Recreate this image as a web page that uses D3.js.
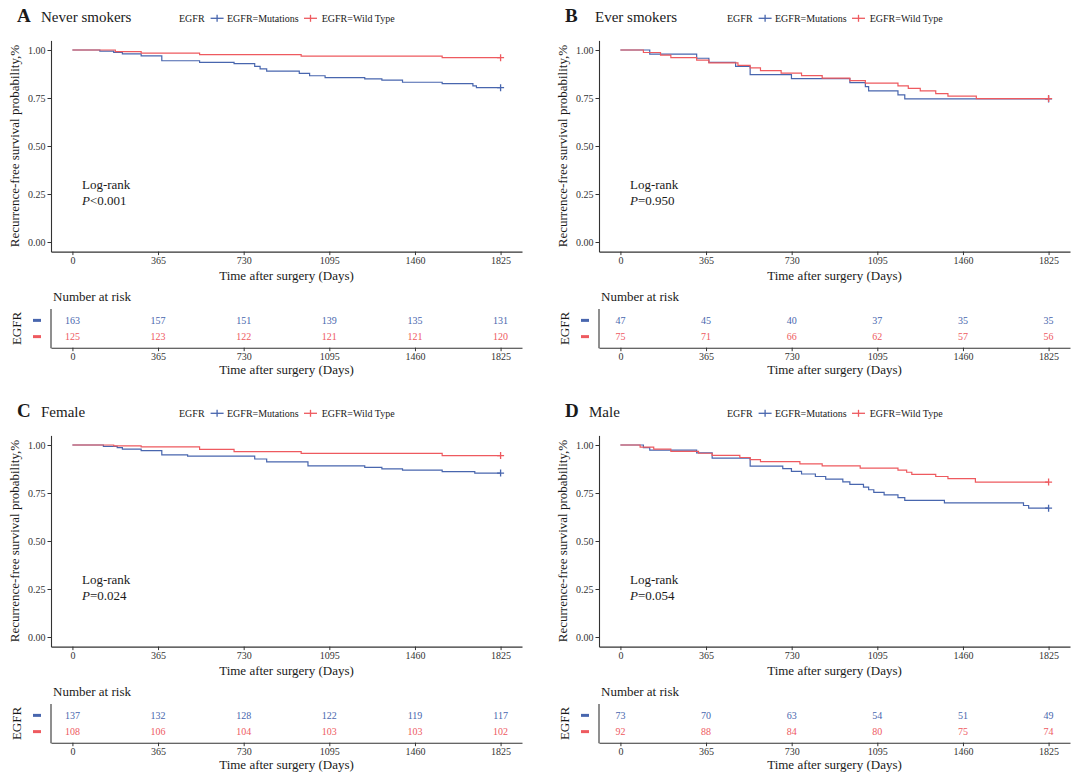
<!DOCTYPE html>
<html>
<head>
<meta charset="utf-8">
<script src="https://cdn.jsdelivr.net/npm/d3@7"></script>
<style>
  html, body { margin: 0; padding: 0; background: #ffffff; }
  svg text { font-family: "Liberation Serif", "DejaVu Serif", serif; }
</style>
</head>
<body>
<svg id="chart" width="1080" height="783"></svg>
<script>
// ---------------- DATA ----------------
const panelLetters = ["A", "B", "C", "D"];
const panelTitles = ["Never smokers", "Ever smokers", "Female", "Male"];
const pValueTexts = ["<0.001", "=0.950", "=0.024", "=0.054"];
const seriesNames = ["EGFR=Mutations", "EGFR=Wild Type"];
const legendTitle = "EGFR";
const xTicks = [0, 365, 730, 1095, 1460, 1825];
const yTicks = [0, 0.25, 0.5, 0.75, 1];

// Never smokers
const neverMutT = [0, 117, 176, 213, 293, 381, 542, 689, 777, 800, 828, 967, 1011, 1077, 1246, 1319, 1407, 1576, 1707, 1722, 1825];
const neverMutS = [1, 0.994, 0.988, 0.98, 0.969, 0.944, 0.936, 0.929, 0.915, 0.902, 0.89, 0.878, 0.866, 0.856, 0.85, 0.843, 0.832, 0.825, 0.813, 0.804, 0.804];
const neverWtT = [0, 183, 293, 542, 975, 1576, 1825];
const neverWtS = [1, 0.992, 0.984, 0.976, 0.968, 0.96, 0.96];
// Ever smokers
const everMutT = [0, 125, 325, 377, 491, 553, 729, 978, 1044, 1058, 1183, 1212, 1825];
const everMutS = [1, 0.979, 0.957, 0.936, 0.915, 0.872, 0.851, 0.83, 0.809, 0.787, 0.766, 0.745, 0.745];
const everWtT = [0, 98, 171, 215, 325, 377, 501, 553, 597, 685, 772, 860, 978, 1044, 1183, 1227, 1278, 1344, 1396, 1517, 1825];
const everWtS = [1, 0.987, 0.973, 0.96, 0.947, 0.933, 0.92, 0.907, 0.893, 0.88, 0.867, 0.853, 0.84, 0.827, 0.813, 0.8, 0.787, 0.773, 0.76, 0.747, 0.747];
// Female
const femaleMutT = [0, 132, 191, 213, 293, 381, 491, 777, 828, 1004, 1246, 1319, 1407, 1576, 1715, 1825];
const femaleMutS = [1, 0.993, 0.986, 0.979, 0.971, 0.949, 0.942, 0.927, 0.912, 0.891, 0.883, 0.876, 0.869, 0.861, 0.854, 0.854];
const femaleWtT = [0, 176, 293, 542, 689, 975, 1576, 1825];
const femaleWtS = [1, 0.995, 0.99, 0.977, 0.966, 0.956, 0.945, 0.945];
// Male
const maleMutT = [0, 98, 125, 325, 391, 553, 692, 729, 772, 831, 875, 948, 978, 1036, 1058, 1080, 1124, 1183, 1212, 1381, 1718, 1740, 1825];
const maleMutS = [1, 0.986, 0.973, 0.959, 0.932, 0.89, 0.877, 0.863, 0.849, 0.836, 0.822, 0.808, 0.795, 0.781, 0.767, 0.753, 0.74, 0.726, 0.712, 0.699, 0.685, 0.671, 0.671];
const maleWtT = [0, 84, 142, 215, 333, 391, 509, 553, 597, 765, 860, 1022, 1183, 1220, 1242, 1344, 1396, 1513, 1825];
const maleWtS = [1, 0.989, 0.978, 0.967, 0.957, 0.946, 0.935, 0.924, 0.913, 0.902, 0.891, 0.88, 0.869, 0.858, 0.847, 0.836, 0.825, 0.807, 0.807];

// Number at risk
const riskNeverMut = [163, 157, 151, 139, 135, 131];
const riskNeverWt = [125, 123, 122, 121, 121, 120];
const riskEverMut = [47, 45, 40, 37, 35, 35];
const riskEverWt = [75, 71, 66, 62, 57, 56];
const riskFemaleMut = [137, 132, 128, 122, 119, 117];
const riskFemaleWt = [108, 106, 104, 103, 103, 102];
const riskMaleMut = [73, 70, 63, 54, 51, 49];
const riskMaleWt = [92, 88, 84, 80, 75, 74];

// ---------------- CONFIG ----------------
const colors = ["#4866ae", "#ee5a5f"];
const panelData = [
  { curves: [[neverMutT, neverMutS], [neverWtT, neverWtS]], risk: [riskNeverMut, riskNeverWt] },
  { curves: [[everMutT, everMutS], [everWtT, everWtS]], risk: [riskEverMut, riskEverWt] },
  { curves: [[femaleMutT, femaleMutS], [femaleWtT, femaleWtS]], risk: [riskFemaleMut, riskFemaleWt] },
  { curves: [[maleMutT, maleMutS], [maleWtT, maleWtS]], risk: [riskMaleMut, riskMaleWt] }
];
const offsets = [[0, 0], [548, 0], [0, 395], [548, 395]];

const svg = d3.select("#chart");
const axisColor = "#333333";
const textColor = "#1a1a1a";

panelData.forEach((pd, i) => {
  const g = svg.append("g").attr("transform", `translate(${offsets[i][0]},${offsets[i][1]})`);

  const x = d3.scaleLinear().domain([-91.25, 1916.25]).range([51, 522]);
  const y = d3.scaleLinear().domain([-0.05, 1.05]).range([251.6, 40.4]);

  // Title
  g.append("text").attr("x", 17).attr("y", 22).attr("font-size", 19).attr("font-weight", "bold")
    .attr("fill", textColor).text(panelLetters[i]);
  g.append("text").attr("x", i === 1 ? 47 : 41).attr("y", 22).attr("font-size", 15)
    .attr("fill", textColor).text(panelTitles[i]);

  // Legend
  const lg = g.append("g").attr("transform", "translate(0,18.3)");
  lg.append("text").attr("x", 179).attr("y", 3.5).attr("font-size", 10).attr("fill", textColor).text(legendTitle);
  const keyX = [210.6, 304];
  const labX = [227, 321.7];
  seriesNames.forEach((nm, k) => {
    lg.append("line").attr("x1", keyX[k]).attr("x2", keyX[k] + 13).attr("y1", 0).attr("y2", 0)
      .attr("stroke", colors[k]).attr("stroke-width", 1.3);
    lg.append("line").attr("x1", keyX[k] + 6.5).attr("x2", keyX[k] + 6.5).attr("y1", -3.5).attr("y2", 3.5)
      .attr("stroke", colors[k]).attr("stroke-width", 1.3);
    lg.append("text").attr("x", labX[k]).attr("y", 3.5).attr("font-size", 10).attr("fill", textColor).text(nm);
  });

  // Axes
  const xAxis = g.append("g").attr("transform", "translate(0,251.6)")
    .call(d3.axisBottom(x).tickValues(xTicks).tickSize(3.5).tickPadding(2).tickSizeOuter(0).tickFormat(d3.format("d")));
  const yAxis = g.append("g").attr("transform", "translate(51,0)")
    .call(d3.axisLeft(y).tickValues(yTicks).tickSize(3.5).tickPadding(2).tickSizeOuter(0).tickFormat(d3.format(".2f")));
  [xAxis, yAxis].forEach(a => {
    a.select(".domain").attr("stroke", axisColor).attr("stroke-width", 1.1);
    a.selectAll(".tick line").attr("stroke", axisColor).attr("stroke-width", 1);
    a.selectAll(".tick text").attr("font-size", 10).attr("fill", "#333333")
      .attr("font-family", "Liberation Serif, serif");
  });

  g.append("text").attr("x", 286.5).attr("y", 280).attr("text-anchor", "middle").attr("font-size", 13)
    .attr("fill", textColor).text("Time after surgery (Days)");
  g.append("text").attr("transform", "translate(19,146) rotate(-90)").attr("text-anchor", "middle")
    .attr("font-size", 13).attr("fill", textColor).text("Recurrence-free survival probability,%");

  // Curves
  const line = d3.line().curve(d3.curveStepAfter).x(d => x(d[0])).y(d => y(d[1]));
  pd.curves.forEach((c, k) => {
    const pts = c[0].map((t, j) => [t, c[1][j]]);
    g.append("path").datum(pts).attr("d", line).attr("fill", "none")
      .attr("stroke", colors[k]).attr("stroke-width", 1.2);
    const last = pts[pts.length - 1];
    const cx = x(last[0]), cy = y(last[1]);
    g.append("path").attr("d", `M${cx - 3.5},${cy}H${cx + 3.5}M${cx},${cy - 3.5}V${cy + 3.5}`)
      .attr("stroke", colors[k]).attr("stroke-width", 1.3).attr("fill", "none");
  });

  // Log-rank
  g.append("text").attr("x", 82).attr("y", 189).attr("font-size", 13).attr("fill", textColor).text("Log-rank");
  const pt = g.append("text").attr("x", 82).attr("y", 205).attr("font-size", 13).attr("fill", textColor);
  pt.append("tspan").attr("font-style", "italic").text("P");
  pt.append("tspan").text(pValueTexts[i]);

  // Risk table
  const ry = d3.scalePoint().domain([0, 1]).range([309, 348]).padding(0.7);
  g.append("text").attr("x", 53).attr("y", 301).attr("font-size", 13).attr("fill", textColor).text("Number at risk");
  const rxAxis = g.append("g").attr("transform", "translate(0,347.7)")
    .call(d3.axisBottom(x).tickValues(xTicks).tickSize(3.5).tickPadding(2).tickSizeOuter(0).tickFormat(d3.format("d")));
  rxAxis.select(".domain").attr("stroke", axisColor).attr("stroke-width", 1.1);
  rxAxis.selectAll(".tick line").attr("stroke", axisColor);
  rxAxis.selectAll(".tick text").attr("font-size", 10).attr("fill", "#333333").attr("font-family", "Liberation Serif, serif");
  g.append("line").attr("x1", 51).attr("x2", 51).attr("y1", 309).attr("y2", 348.2)
    .attr("stroke", axisColor).attr("stroke-width", 1.1);
  g.append("text").attr("x", 286.5).attr("y", 374).attr("text-anchor", "middle").attr("font-size", 13)
    .attr("fill", textColor).text("Time after surgery (Days)");
  g.append("text").attr("transform", "translate(21,328.5) rotate(-90)").attr("text-anchor", "middle")
    .attr("font-size", 13).attr("fill", textColor).text(legendTitle);

  pd.risk.forEach((arr, k) => {
    g.append("line").attr("x1", 33).attr("x2", 41).attr("y1", ry(k)).attr("y2", ry(k))
      .attr("stroke", colors[k]).attr("stroke-width", 3);
    g.selectAll(null).data(arr).enter().append("text")
      .attr("x", (d, j) => x(xTicks[j])).attr("y", ry(k) + 3.6)
      .attr("text-anchor", "middle").attr("font-size", 10).attr("fill", colors[k])
      .text(d => d);
  });
});
</script>
</body>
</html>
